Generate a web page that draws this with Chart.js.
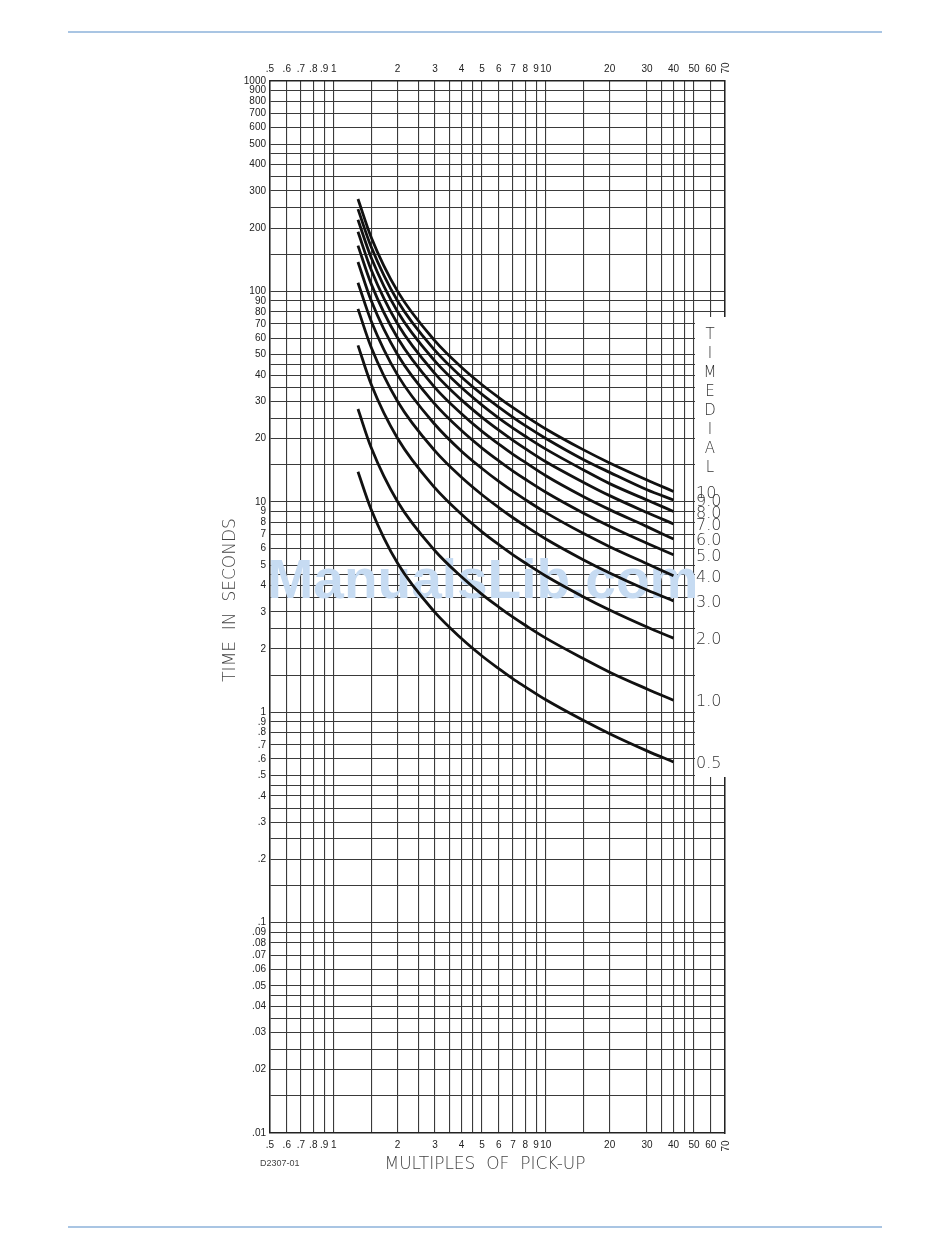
<!DOCTYPE html>
<html>
<head>
<meta charset="utf-8">
<script src="https://cdn.jsdelivr.net/npm/chart.js@4.4.1/dist/chart.umd.min.js"></script>
<style>
html, body { margin: 0; padding: 0; background: #fff; }
canvas { display: block; }
</style>
</head>
<body>
<canvas id="curves" width="950" height="1260"></canvas>
<script>
// multiples of pick-up where the curves were read
const multiples = [1.3, 1.5, 2, 3, 4, 5, 6, 7, 8, 10, 15, 20, 30, 40];

// time in seconds, one array per time dial setting
const dial05 = [13.9, 9.2, 5.1, 2.98, 2.24, 1.85, 1.61, 1.44, 1.32, 1.145, 0.915, 0.79, 0.655, 0.58];
const dial1 = [27.6, 18.1, 10.0, 5.85, 4.4, 3.63, 3.16, 2.83, 2.59, 2.25, 1.8, 1.55, 1.29, 1.14];
const dial2 = [55.4, 36.2, 20, 11.64, 8.72, 7.2, 6.26, 5.6, 5.12, 4.44, 3.54, 3.06, 2.54, 2.25];
const dial3 = [82.6, 54.3, 30, 17.46, 13.08, 10.8, 9.39, 8.4, 7.68, 6.66, 5.31, 4.59, 3.81, 3.38];
const dial4 = [110, 72.4, 40, 23.3, 17.4, 14.4, 12.5, 11.2, 10.24, 8.88, 7.08, 6.12, 5.08, 4.45];
const dial5 = [138, 90.5, 50, 29.1, 21.8, 18, 15.65, 14, 12.8, 11.1, 8.85, 7.65, 6.35, 5.6];
const dial6 = [165, 108.6, 60, 34.9, 26.2, 21.6, 18.8, 16.8, 15.4, 13.3, 10.6, 9.18, 7.62, 6.65];
const dial7 = [192, 126.7, 70, 40.7, 30.5, 25.2, 21.9, 19.6, 17.9, 15.5, 12.4, 10.7, 8.89, 7.85];
const dial8 = [219, 144.8, 80, 46.6, 34.9, 28.8, 25.0, 22.4, 20.5, 17.8, 14.2, 12.2, 10.2, 9.0];
const dial9 = [246, 163, 90, 52.4, 39.2, 32.4, 28.2, 25.2, 23.0, 20.0, 15.9, 13.8, 11.4, 10.2];
const dial10 = [275, 181, 100, 58.2, 43.6, 36, 31.3, 28, 25.6, 22.2, 17.7, 15.3, 12.7, 11.2];

const dialSeries = [dial05, dial1, dial2, dial3, dial4, dial5, dial6, dial7, dial8, dial9, dial10];
const dialNames = ['0.5', '1.0', '2.0', '3.0', '4.0', '5.0', '6.0', '7.0', '8.0', '9.0', '10'];

// grid lines and their labels
const xGrid = [0.5, 0.6, 0.7, 0.8, 0.9, 1, 1.5, 2, 2.5, 3, 3.5, 4, 4.5, 5, 6, 7, 8, 9, 10, 15, 20, 30, 35, 40, 45, 50, 60, 70];
const xText = ['.5', '.6', '.7', '.8', '.9', '1', '', '2', '', '3', '', '4', '', '5', '6', '7', '8', '9', '10', '', '20', '30', '', '40', '', '50', '60', '70'];
const yGrid = [1000, 900, 800, 700, 600, 500, 450, 400, 350, 300, 250, 200, 150,
  100, 90, 80, 70, 60, 50, 45, 40, 35, 30, 25, 20, 15,
  10, 9, 8, 7, 6, 5, 4.5, 4, 3.5, 3, 2.5, 2, 1.5,
  1, 0.9, 0.8, 0.7, 0.6, 0.5, 0.45, 0.4, 0.35, 0.3, 0.25, 0.2, 0.15,
  0.1, 0.09, 0.08, 0.07, 0.06, 0.05, 0.045, 0.04, 0.035, 0.03, 0.025, 0.02, 0.015, 0.01];
const yText = ['1000', '900', '800', '700', '600', '500', '', '400', '', '300', '', '200', '',
  '100', '90', '80', '70', '60', '50', '', '40', '', '30', '', '20', '',
  '10', '9', '8', '7', '6', '5', '', '4', '', '3', '', '2', '',
  '1', '.9', '.8', '.7', '.6', '.5', '', '.4', '', '.3', '', '.2', '',
  '.1', '.09', '.08', '.07', '.06', '.05', '', '.04', '', '.03', '', '.02', '', '.01'];

const tickFont = { family: '"Liberation Sans", Arial, sans-serif', size: 10 };

function xAxis(pos, showGrid) {
  return {
    type: 'logarithmic',
    position: pos,
    min: 0.5,
    max: 70,
    afterBuildTicks: s => { s.ticks = xGrid.map(v => ({ value: v })); },
    afterFit: s => { s.height = 22; },
    ticks: {
      autoSkip: false,
      maxRotation: 0,
      minRotation: 0,
      padding: 6,
      color: '#222',
      font: tickFont,
      callback: (v, i) => (xText[i] === '70' ? '' : xText[i])
    },
    grid: { display: showGrid, drawTicks: false, color: '#3a3a3a', lineWidth: 1.1 },
    border: { color: '#222', width: 1.5 }
  };
}

const datasets = dialSeries.map((arr, k) => ({
  label: dialNames[k],
  data: multiples.map((m, i) => ({ x: m, y: arr[i] })),
  borderColor: '#111',
  borderWidth: 2.8,
  pointRadius: 0,
  fill: false,
  cubicInterpolationMode: 'monotone'
}));

const decor = {
  id: 'decor',
  beforeDatasetsDraw(chart) {
    const c = chart.ctx;
    c.save();
    c.fillStyle = '#c6dbf2';
    c.font = 'bold 55px "Liberation Sans", Arial, sans-serif';
    c.textAlign = 'center';
    c.textBaseline = 'alphabetic';
    c.fillText('ManualsLib.com', 483, 598);
    c.restore();
  },
  afterDraw(chart) {
    const c = chart.ctx;
    const xs = chart.scales.x;
    const ys = chart.scales.y;
    c.save();
    // page rules
    c.strokeStyle = '#a9c5e3';
    c.lineWidth = 2;
    c.beginPath();
    c.moveTo(68, 32); c.lineTo(882, 32);
    c.moveTo(68, 1227); c.lineTo(882, 1227);
    c.stroke();

    // rotated "70" labels
    const x70 = xs.getPixelForValue(70);
    c.fillStyle = '#222';
    c.font = '10px "Liberation Sans", Arial, sans-serif';
    c.textAlign = 'center';
    c.textBaseline = 'middle';
    [68, 1146].forEach(yy => {
      c.save();
      c.translate(x70 + 1, yy);
      c.rotate(-Math.PI / 2);
      c.fillText('70', 0, 0);
      c.restore();
    });

    // time dial panel
    c.fillStyle = '#fff';
    c.fillRect(695, 317, 33, 460);
    c.fillStyle = '#333';
    c.font = '200 15px "DejaVu Sans", sans-serif';
    c.textAlign = 'center';
    const letters = ['T', 'I', 'M', 'E', 'D', 'I', 'A', 'L'];
    letters.forEach((ch, i) => c.fillText(ch, 710, 335 + i * 19));
    c.textAlign = 'left';
    c.font = '200 16px "DejaVu Sans", sans-serif';
    dialSeries.forEach((arr, k) => {
      const yy = ys.getPixelForValue(arr[arr.length - 1]) + 2;
      c.fillText(dialNames[k], 696, yy);
    });

    // axis titles
    c.fillStyle = '#444';
    c.font = '200 17px "DejaVu Sans", sans-serif';
    c.textAlign = 'center';
    c.fillText('MULTIPLES  OF  PICK-UP', 485, 1165);
    c.save();
    c.translate(231, 600);
    c.rotate(-Math.PI / 2);
    c.fillText('TIME  IN  SECONDS', 0, 0);
    c.restore();
    c.font = '9px "Liberation Sans", Arial, sans-serif';
    c.textAlign = 'left';
    c.fillText('D2307-01', 260, 1164);
    c.restore();
  }
};

new Chart(document.getElementById('curves'), {
  type: 'line',
  data: { datasets: datasets },
  options: {
    responsive: false,
    animation: false,
    layout: { padding: { left: 230, right: 225, top: 59, bottom: 105 } },
    plugins: { legend: { display: false }, tooltip: { enabled: false } },
    scales: {
      x: xAxis('bottom', true),
      x2: xAxis('top', false),
      y: {
        type: 'logarithmic',
        position: 'left',
        min: 0.01,
        max: 1000,
        afterBuildTicks: s => { s.ticks = yGrid.map(v => ({ value: v })); },
        afterFit: s => { s.width = 40; },
        ticks: {
          autoSkip: false,
          padding: 4,
          color: '#222',
          font: tickFont,
          callback: (v, i) => yText[i]
        },
        grid: { drawTicks: false, color: '#3a3a3a', lineWidth: 1.1 },
        border: { color: '#222', width: 1.5 }
      },
      y2: {
        type: 'logarithmic',
        position: 'right',
        min: 0.01,
        max: 1000,
        afterFit: s => { s.width = 0; },
        ticks: { display: false },
        grid: { display: false },
        border: { color: '#222', width: 1.5 }
      }
    }
  },
  plugins: [decor]
});
</script>
</body>
</html>
